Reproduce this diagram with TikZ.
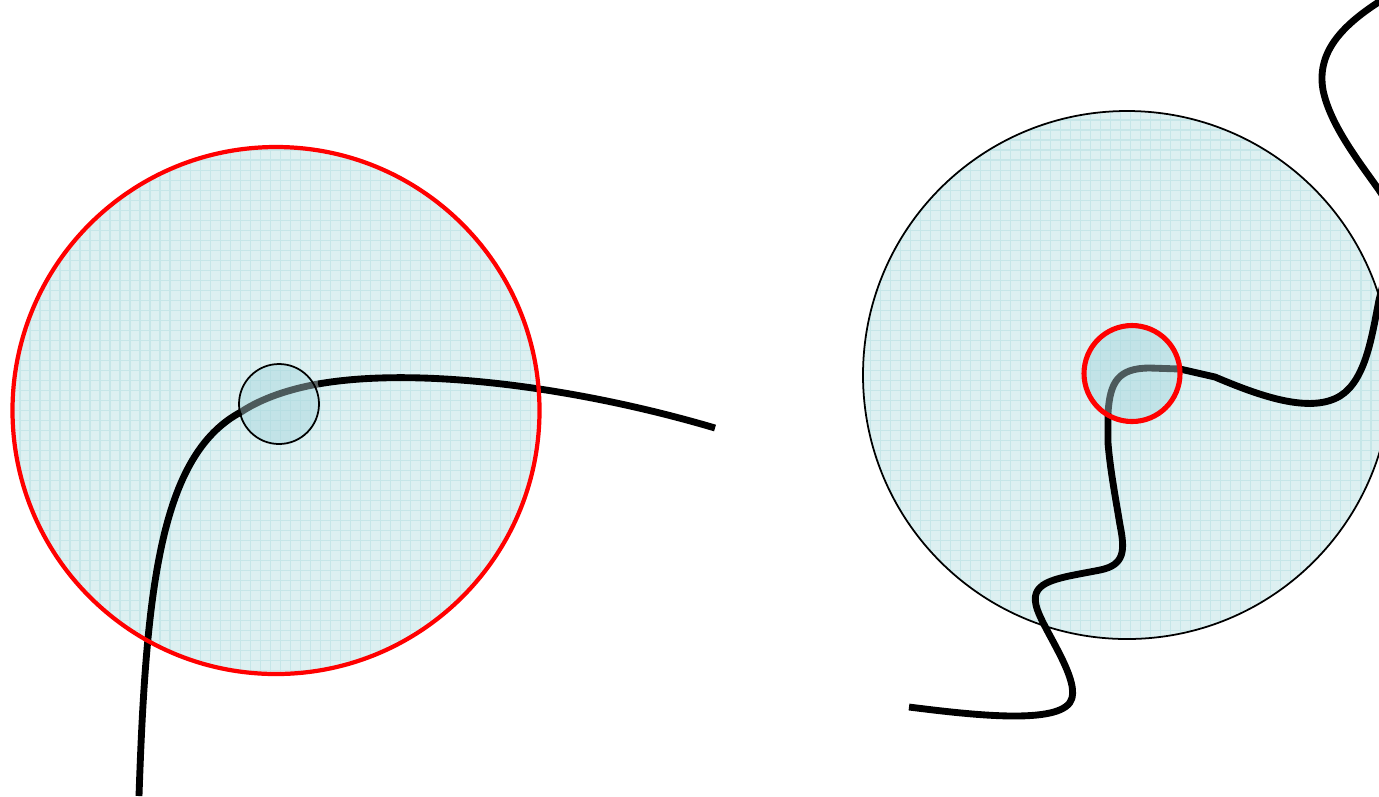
\documentclass[tikz,border=0pt]{standalone}
\usetikzlibrary{positioning}
\definecolor{cCyan}{HTML}{DDF0F1}
\definecolor{cGrid}{HTML}{C6E6E8}
\definecolor{cCore}{HTML}{A9D8DE}
\definecolor{cRed}{HTML}{FF0000}
\tikzset{
  disc/.style={circle, inner sep=0pt, minimum size=#1, fill=cCyan},
  core/.style={circle, inner sep=0pt, minimum size=#1, fill=cCore, fill opacity=0.5},
  gridlines/.style={draw=cGrid, line width=0.35pt},
  ring/.style={draw=cRed, line width=#1},
  thinring/.style={draw=black, line width=0.5pt},
  strand/.style={draw=black, line width=1.95pt, line join=round},
  hidden/.style={strand, draw opacity=0.6},
}

\begin{document}
\begin{tikzpicture}[x=0.01cm, y=-0.01cm]
  \useasboundingbox (0,0) rectangle (1379,796);
  \clip (0,0) rectangle (1379,796);

  % discs
  \node[disc=5.27cm] (ldisc) at (276,410.5) {};
  \node[disc=5.28cm] (rdisc) at (1127,375) {};
  \begin{scope}
    \clip (ldisc.center) circle[radius=263.5];
    \draw[gridlines, step=0.1cm] (0,0) grid (700,796);
  \end{scope}
  \begin{scope}
    \clip (rdisc.center) circle[radius=264];
    \draw[gridlines, step=0.1cm] (850,0) grid (1400,796);
  \end{scope}
  \node[core=0.8cm] (lcore) at (279,404) {};
  \node[core=0.96cm] (rcore) at (1132,373.5) {};

  % left strand
  \coordinate (la) at (139,796);
  \coordinate (lb) at (241,412);
  \coordinate (lc) at (318,384);
  \coordinate (ld) at (715,428);
  \draw[strand] (la) .. controls (146,590) and (160,455) .. (lb);
  \draw[hidden] (lb) .. controls (262,398) and (290,389) .. (lc);
  \draw[strand] (lc) .. controls (420,366) and (580,388) .. (ld);

  % right strand
  \coordinate (ra) at (909,707);
  \coordinate (rb) at (1108,413);
  \coordinate (rc) at (1180,369);
  \draw[strand] (ra) .. controls (980,716) and (1065,725) .. (1072,698)
    .. controls (1078,675) and (1040,625) .. (1036,605)
    .. controls (1030,580) and (1060,578) .. (1100,570)
    .. controls (1125,565) and (1125,550) .. (1120,525)
    .. controls (1115,495) and (1110,468) .. (1108,443) -- (rb);
  \draw[hidden] (rb) .. controls (1110,382) and (1118,368) .. (1150,368) -- (rc);
  \draw[strand] (rc) -- (1215,377)
    .. controls (1260,396) and (1310,414) .. (1340,396)
    .. controls (1366,380) and (1372,335) .. (1379,300)
    .. controls (1395,240) and (1395,212) .. (1379,190)
    .. controls (1360,163) and (1330,125) .. (1323,90)
    .. controls (1316,50) and (1345,22) .. (1390,-5);

  % outlines
  \draw[ring=1.2pt] (ldisc.center) circle[radius=263.5];
  \draw[thinring] (lcore.center) circle[radius=40];
  \draw[thinring] (rdisc.center) circle[radius=264];
  \draw[ring=1.45pt] (rcore.center) circle[radius=48];
\end{tikzpicture}
\end{document}
